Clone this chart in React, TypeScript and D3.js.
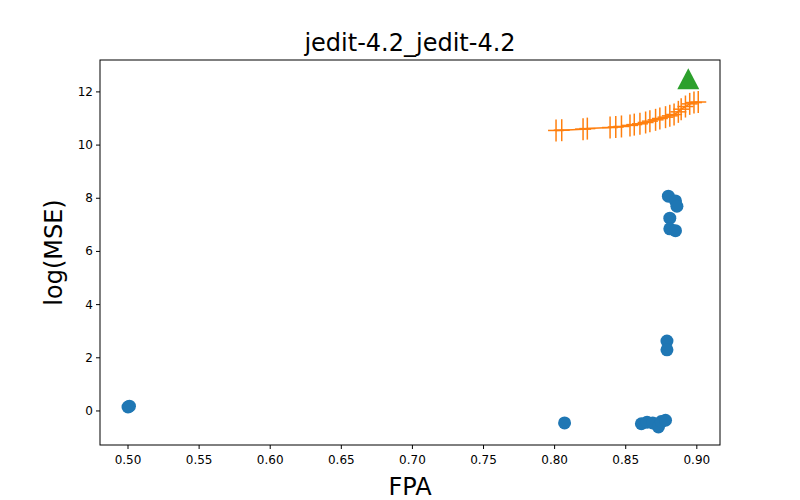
import React from "react";
import * as d3 from "d3";

const orangeX = [0.801,0.805,0.820,0.823,0.839,0.843,0.847,0.853,0.856,0.860,0.864,0.867,0.871,0.874,0.878,0.881,0.884,0.887,0.889,0.892,0.895,0.898,0.901];
const orangeY = [10.55,10.56,10.6,10.62,10.66,10.68,10.7,10.74,10.77,10.8,10.85,10.9,10.95,11.0,11.05,11.1,11.15,11.25,11.35,11.45,11.55,11.6,11.62];
const blueX = [0.5,0.501,0.807,0.861,0.865,0.869,0.873,0.875,0.878,0.879,0.879,0.880,0.885,0.886,0.881,0.881,0.885];
const blueY = [0.15,0.18,-0.45,-0.48,-0.42,-0.45,-0.6,-0.4,-0.35,2.63,2.3,8.08,7.9,7.7,7.25,6.85,6.78];
const greenX = [0.894];
const greenY = [12.48];
const xTicks = [0.5,0.55,0.6,0.65,0.7,0.75,0.8,0.85,0.9];
const yTicks = [0,2,4,6,8,10,12];

export default function App() {
  const L = 100, R = 720, T = 60, B = 445;
  const x = d3.scaleLinear().domain([0.4803, 0.9163]).range([L, R]);
  const y = d3.scaleLinear().domain([-1.28, 13.2]).range([B, T]);
  const line = d3.line<number>().x((_, i) => x(orangeX[i])).y((_, i) => y(orangeY[i]));
  const font = "DejaVu Sans, sans-serif";
  return (
    <svg width={800} height={500} style={{ position: "absolute", left: 0, top: 0 }} fontFamily={font}>
      <rect width={800} height={500} fill="#fff" />
      {blueX.map((v, i) => <circle key={i} cx={x(v)} cy={y(blueY[i])} r={6.5} fill="#1f77b4" />)}
      <path d={line(orangeX) || ""} fill="none" stroke="#ff7f0e" strokeWidth={1.5} />
      {orangeX.map((v, i) => (
        <g key={i} stroke="#ff7f0e" strokeWidth={1.5}>
          <line x1={x(v)} x2={x(v)} y1={y(orangeY[i]) - 11} y2={y(orangeY[i]) + 11} />
          <line x1={x(v) - 8} x2={x(v) + 8} y1={y(orangeY[i])} y2={y(orangeY[i])} />
        </g>
      ))}
      {greenX.map((v, i) => {
        const cx = x(v), cy = y(greenY[i]);
        return <path key={i} d={`M${cx},${cy - 11}L${cx + 11},${cy + 10}L${cx - 11},${cy + 10}Z`} fill="#2ca02c" />;
      })}
      <rect x={L} y={T} width={R - L} height={B - T} fill="none" stroke="#000" strokeWidth={1} />
      {xTicks.map(t => (
        <g key={t}>
          <line x1={x(t)} x2={x(t)} y1={B} y2={B + 4} stroke="#000" />
          <text x={x(t)} y={B + 19} fontSize={12} textAnchor="middle">{t.toFixed(2)}</text>
        </g>
      ))}
      {yTicks.map(t => (
        <g key={t}>
          <line x1={L - 4} x2={L} y1={y(t)} y2={y(t)} stroke="#000" />
          <text x={L - 7} y={y(t) + 4} fontSize={12} textAnchor="end">{t}</text>
        </g>
      ))}
      <text x={410} y={51} fontSize={24} textAnchor="middle">jedit-4.2_jedit-4.2</text>
      <text x={410} y={495} fontSize={24} textAnchor="middle">FPA</text>
      <text transform={`translate(62,${(T + B) / 2}) rotate(-90)`} fontSize={24} textAnchor="middle">log(MSE)</text>
    </svg>
  );
}
